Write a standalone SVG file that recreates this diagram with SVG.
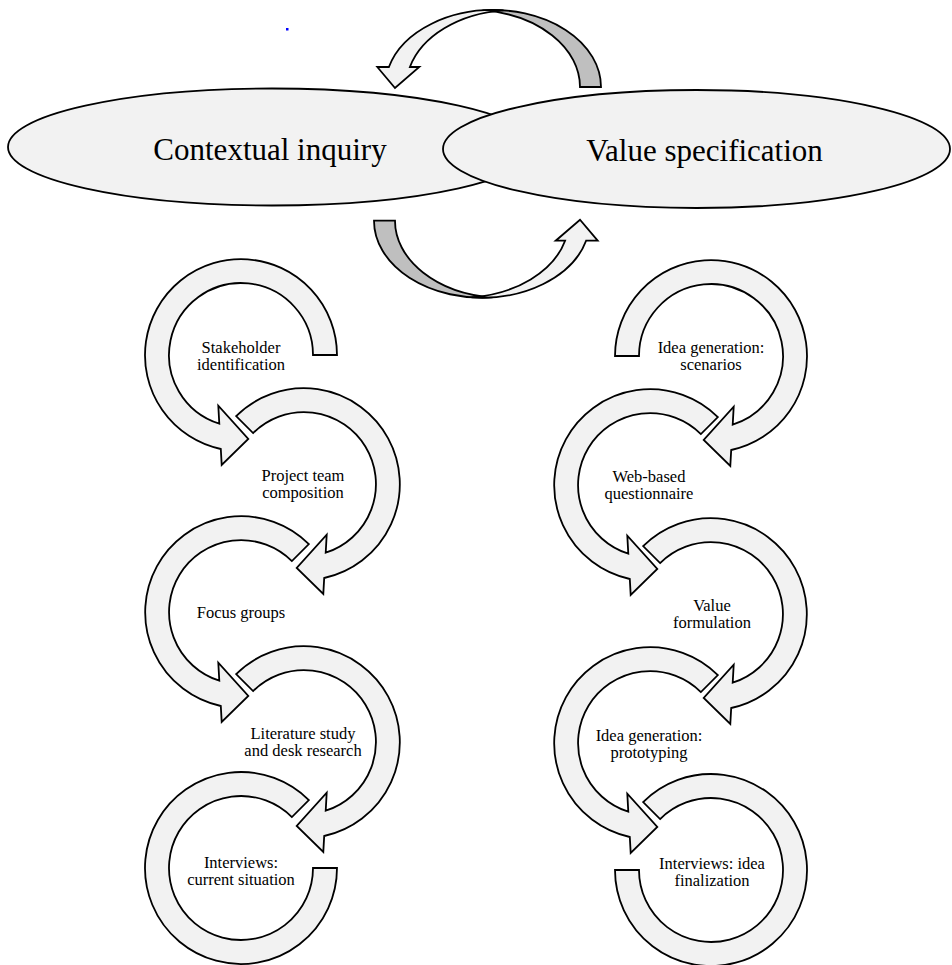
<svg xmlns="http://www.w3.org/2000/svg" xmlns:xlink="http://www.w3.org/1999/xlink" width="952" height="965" viewBox="0 0 952 965">
<style>
.band{fill:#f2f2f2;stroke:#000;stroke-width:1.8;stroke-linejoin:miter}
.dark{fill:#bfbfbf;stroke:#000;stroke-width:1.8}
.ell{fill:#f2f2f2;stroke:#000;stroke-width:1.8}
.lbl{font-family:"Liberation Serif","Times New Roman",serif;font-size:16.5px;fill:#000;text-anchor:middle}
.big{font-size:31px}
</style>
<defs>
<path id="arrowA" d="M96,0 A96,96 0 1 0 -20.2,94 L-19.3,110 L7.3,84 L-22.7,50.7 L-21.7,68.7 A72,72 0 1 1 72,0 Z"/>
<path id="arrowB" d="M67.88,-67.88 A96,96 0 1 0 -20.2,94 L-19.3,110 L7.3,84 L-22.7,50.7 L-21.7,68.7 A72,72 0 1 1 50.91,-50.91 Z"/>
<path id="arcC" d="M67.88,-67.88 A96,96 0 1 0 96,0 L72,0 A72,72 0 1 1 50.91,-50.91 Z"/>
<g id="curved">
<path class="dark" d="M601,87 A108,77 0 0 0 482.5,10.36 A108,77 0 0 1 580,87 Z"/>
<path class="band" d="M388.9,67 A108,77 0 0 1 503.5,10.36 A108,77 0 0 0 409.9,67 L419.3,67 L395,88 L377.3,67 Z"/>
</g>
</defs>
<rect x="286" y="28" width="2.5" height="2.5" fill="#0000ff"/>
<g id="contextual-inquiry">
<ellipse class="ell" cx="272" cy="147" rx="264" ry="58.5"/>
<text class="lbl big" x="270" y="160">Contextual inquiry</text>
</g>
<g id="value-specification">
<ellipse class="ell" cx="696.5" cy="149" rx="253.5" ry="59"/>
<text class="lbl big" x="704.5" y="161">Value specification</text>
</g>
<g id="connectors">
<use xlink:href="#curved"/>
<use xlink:href="#curved" transform="rotate(180 487.5 153.85)"/>
</g>
<g id="stakeholder-identification">
<use class="band" xlink:href="#arrowA" transform="translate(241,355)"/>
<text class="lbl" x="241" y="352.5">Stakeholder</text>
<text class="lbl" x="241" y="369.5">identification</text>
</g>
<g id="project-team-composition">
<use class="band" xlink:href="#arrowB" transform="translate(304,484) scale(-1,1)"/>
<text class="lbl" x="303" y="481">Project team</text>
<text class="lbl" x="303" y="498">composition</text>
</g>
<g id="focus-groups">
<use class="band" xlink:href="#arrowB" transform="translate(241,612)"/>
<text class="lbl" x="241" y="618">Focus groups</text>
</g>
<g id="literature-study">
<use class="band" xlink:href="#arrowB" transform="translate(304,742) scale(-1,1)"/>
<text class="lbl" x="303" y="738.5">Literature study</text>
<text class="lbl" x="303" y="755.5">and desk research</text>
</g>
<g id="interviews-current">
<use class="band" xlink:href="#arcC" transform="translate(241,868)"/>
<text class="lbl" x="241" y="867.5">Interviews:</text>
<text class="lbl" x="241" y="884.5">current situation</text>
</g>
<g id="idea-generation-scenarios">
<use class="band" xlink:href="#arrowA" transform="translate(711,356) scale(-1,1)"/>
<text class="lbl" x="711" y="353">Idea generation:</text>
<text class="lbl" x="711" y="370">scenarios</text>
</g>
<g id="web-based-questionnaire">
<use class="band" xlink:href="#arrowB" transform="translate(650,485)"/>
<text class="lbl" x="649" y="482">Web-based</text>
<text class="lbl" x="649" y="499">questionnaire</text>
</g>
<g id="value-formulation">
<use class="band" xlink:href="#arrowB" transform="translate(711,614) scale(-1,1)"/>
<text class="lbl" x="712" y="611">Value</text>
<text class="lbl" x="712" y="628">formulation</text>
</g>
<g id="idea-generation-prototyping">
<use class="band" xlink:href="#arrowB" transform="translate(650,743)"/>
<text class="lbl" x="649" y="740.5">Idea generation:</text>
<text class="lbl" x="649" y="757.5">prototyping</text>
</g>
<g id="interviews-idea-finalization">
<use class="band" xlink:href="#arcC" transform="translate(711,870) scale(-1,1)"/>
<text class="lbl" x="712" y="868.5">Interviews: idea</text>
<text class="lbl" x="712" y="885.5">finalization</text>
</g>
</svg>
